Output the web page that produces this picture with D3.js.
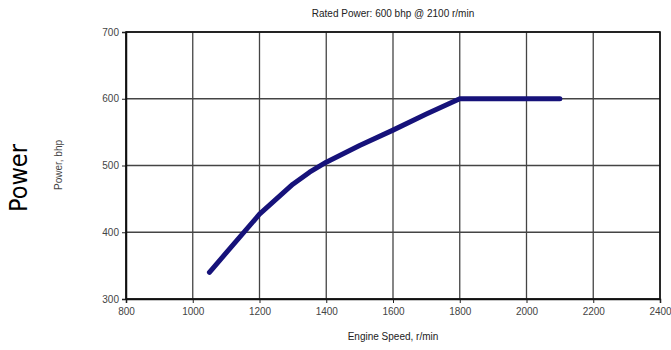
<!DOCTYPE html>
<html>
<head>
<meta charset="utf-8">
<script src="https://cdn.jsdelivr.net/npm/d3@7"></script>
<style>
  body { margin: 0; background: #fff; }
  svg text { font-family: Arial, "Liberation Sans", sans-serif; }
</style>
</head>
<body>
<div id="chart"></div>
<script>
// Power curve
var speeds = [1050, 1100, 1200, 1300, 1350, 1400, 1500, 1600, 1700, 1800, 1900, 2000, 2100];
var power  = [340, 369, 427, 472, 490, 505, 530, 553, 577, 600, 600, 600, 600];

var xTicks = [800, 1000, 1200, 1400, 1600, 1800, 2000, 2200, 2400];
var yTicks = [300, 400, 500, 600, 700];

var w = 671, h = 350;
var margin = {top: 32, right: 11, bottom: 51, left: 126};
var width = w - margin.left - margin.right,
    height = h - margin.top - margin.bottom;

var svg = d3.select("#chart").append("svg")
    .attr("width", w)
    .attr("height", h);

var x = d3.scaleLinear().domain([800, 2400]).range([0, width]);
var y = d3.scaleLinear().domain([300, 700]).range([height, 0]);

var g = svg.append("g")
    .attr("transform", "translate(" + margin.left + "," + margin.top + ")");

// grid
g.selectAll(".vgrid").data(xTicks).enter().append("line")
    .attr("x1", function(d) { return x(d); })
    .attr("x2", function(d) { return x(d); })
    .attr("y1", 0).attr("y2", height)
    .attr("stroke", "#444").attr("stroke-width", 1.3);

g.selectAll(".hgrid").data(yTicks).enter().append("line")
    .attr("x1", 0).attr("x2", width)
    .attr("y1", function(d) { return y(d); })
    .attr("y2", function(d) { return y(d); })
    .attr("stroke", "#444").attr("stroke-width", 1.3);

// axes
var xAxis = d3.axisBottom(x).tickValues(xTicks).tickFormat(d3.format("d")).tickSize(4).tickPadding(5);
var yAxis = d3.axisLeft(y).tickValues(yTicks).tickFormat(d3.format("d")).tickSize(4).tickPadding(3);

var gx = g.append("g")
    .attr("transform", "translate(0," + height + ")")
    .call(xAxis);
var gy = g.append("g").call(yAxis);

[gx, gy].forEach(function(a) {
    a.select(".domain").attr("stroke", "#111").attr("stroke-width", 1.5);
    a.selectAll(".tick line").attr("stroke", "#222");
    a.selectAll(".tick text")
        .attr("fill", "#444")
        .style("font-size", "10px");
});

// frame right & top
g.append("rect")
    .attr("x", 0).attr("y", 0)
    .attr("width", width).attr("height", height)
    .attr("fill", "none")
    .attr("stroke", "#111").attr("stroke-width", 1.6);

// the curve
var line = d3.line()
    .x(function(d, i) { return x(speeds[i]); })
    .y(function(d) { return y(d); });

g.append("path")
    .datum(power)
    .attr("d", line)
    .attr("fill", "none")
    .attr("stroke", "#16127a")
    .attr("stroke-width", 5)
    .attr("stroke-linecap", "round")
    .attr("stroke-linejoin", "round");

// texts
svg.append("text")
    .attr("x", margin.left + width / 2)
    .attr("y", 17)
    .attr("text-anchor", "middle")
    .style("font-size", "10px")
    .attr("fill", "#222")
    .text("Rated Power: 600 bhp @ 2100 r/min");

svg.append("text")
    .attr("x", margin.left + width / 2)
    .attr("y", 340)
    .attr("text-anchor", "middle")
    .style("font-size", "10px")
    .attr("fill", "#222")
    .text("Engine Speed, r/min");

svg.append("text")
    .attr("transform", "translate(62,165) rotate(-90)")
    .attr("text-anchor", "middle")
    .style("font-size", "10px")
    .attr("fill", "#444")
    .text("Power, bhp");

svg.append("text")
    .attr("transform", "translate(27,178) rotate(-90)")
    .attr("text-anchor", "middle")
    .style("font-family", "'Liberation Sans Narrow', 'DejaVu Sans Condensed', sans-serif")
    .style("font-size", "25px")
    .attr("fill", "#000")
    .text("Power");
</script>
</body>
</html>
